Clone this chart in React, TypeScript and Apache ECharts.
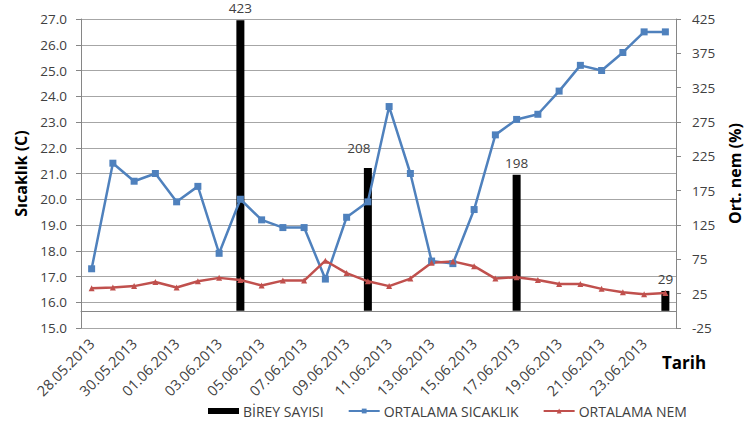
import React, { useEffect, useRef } from "react";
import * as echarts from "echarts";

const dates = [
  "28.05.2013", "29.05.2013", "30.05.2013", "31.05.2013", "01.06.2013", "02.06.2013", "03.06.2013",
  "04.06.2013", "05.06.2013", "06.06.2013", "07.06.2013", "08.06.2013", "09.06.2013", "10.06.2013",
  "11.06.2013", "12.06.2013", "13.06.2013", "14.06.2013", "15.06.2013", "16.06.2013", "17.06.2013",
  "18.06.2013", "19.06.2013", "20.06.2013", "21.06.2013", "22.06.2013", "23.06.2013", "24.06.2013",
];

const bireySayisi: (number | null)[] = [
  null, null, null, null, null, null, null, 423, null, null, null, null, null, 208,
  null, null, null, null, null, null, 198, null, null, null, null, null, null, 29,
];

const ortalamaSicaklik = [
  17.3, 21.4, 20.7, 21.0, 19.9, 20.5, 17.9, 20.0, 19.2, 18.9, 18.9, 16.9, 19.3, 19.9,
  23.6, 21.0, 17.6, 17.5, 19.6, 22.5, 23.1, 23.3, 24.2, 25.2, 25.0, 25.7, 26.5, 26.5,
];

const ortalamaNem = [
  33, 34, 36, 42, 34, 43, 48, 45, 37, 44, 44, 73, 55, 43,
  36, 47, 70, 72, 65, 47, 49, 45, 39, 39, 32, 27, 24, 26,
];

const rightTicks = [-25, 25, 75, 125, 175, 225, 275, 325, 375, 425];

const FONT = "Open Sans";

export default function App() {
  const ref = useRef<HTMLDivElement>(null);

  useEffect(() => {
    if (!ref.current) return;
    const chart = echarts.init(ref.current, null, { renderer: "svg" });

    const barData = bireySayisi.map((v) => {
      if (v === 208) {
        return { value: v, label: { offset: [-9, -8] } };
      }
      return v === null ? "-" : v;
    });

    chart.setOption({
      animation: false,
      backgroundColor: "#ffffff",
      textStyle: { fontFamily: FONT },
      grid: {
        left: 81,
        right: 70,
        top: 19,
        bottom: 104,
        outerBoundsMode: "none",
        containLabel: false,
      },
      legend: {
        left: 203,
        top: 399,
        itemWidth: 31,
        itemHeight: 6,
        itemGap: 24,
        textStyle: { fontFamily: FONT, fontSize: 14, color: "#404040", padding: [0, 0, 0, -1] },
        data: [
          { name: "BİREY SAYISI", icon: "rect" },
          { name: "ORTALAMA SICAKLIK" },
          { name: "ORTALAMA NEM" },
        ],
      },
      xAxis: {
        type: "category",
        data: dates,
        boundaryGap: true,
        axisLine: { lineStyle: { color: "#868686", width: 1 } },
        axisTick: { interval: 1, length: 5, lineStyle: { color: "#868686" } },
        axisLabel: {
          interval: 1,
          rotate: 45,
          margin: 13,
          fontFamily: FONT,
          fontSize: 14.5,
          color: "#404040",
        },
        splitLine: { show: false },
      },
      yAxis: [
        {
          type: "value",
          min: 15,
          max: 27,
          interval: 1,
          position: "left",
          name: "Sıcaklık (C)",
          nameLocation: "middle",
          nameGap: 52,
          nameTextStyle: { fontFamily: FONT, fontSize: 16, fontWeight: "bold", color: "#000000" },
          axisLine: { show: true, lineStyle: { color: "#868686" } },
          axisTick: { show: true, length: 5, lineStyle: { color: "#868686" } },
          axisLabel: {
            margin: 14,
            fontFamily: FONT,
            fontSize: 13.5,
            color: "#404040",
            formatter: (v: number) => v.toFixed(1),
          },
          splitLine: { show: true, lineStyle: { color: "#A6A6A6", width: 1 } },
        },
        {
          type: "value",
          min: -25,
          max: 425,
          position: "right",
          name: "Ort. nem (%)",
          nameLocation: "middle",
          nameRotate: 90,
          nameGap: 51,
          nameTextStyle: { fontFamily: FONT, fontSize: 16, fontWeight: "bold", color: "#000000" },
          axisLine: { show: true, lineStyle: { color: "#868686" } },
          axisTick: { show: true, length: 5, customValues: rightTicks, lineStyle: { color: "#868686" } },
          axisLabel: {
            margin: 16,
            fontFamily: FONT,
            fontSize: 13.5,
            color: "#404040",
            customValues: rightTicks,
          },
          splitLine: { show: false },
        },
      ],
      series: [
        {
          name: "BİREY SAYISI",
          type: "bar",
          yAxisIndex: 1,
          data: barData,
          barWidth: 8,
          itemStyle: { color: "#000000" },
          label: {
            show: true,
            position: "top",
            distance: 5,
            fontFamily: FONT,
            fontSize: 13.5,
            color: "#404040",
          },
        },
        {
          name: "ORTALAMA SICAKLIK",
          type: "line",
          yAxisIndex: 0,
          data: ortalamaSicaklik,
          symbol: "rect",
          symbolSize: 7,
          lineStyle: { color: "#4F81BD", width: 2.5 },
          itemStyle: { color: "#4F81BD" },
        },
        {
          name: "ORTALAMA NEM",
          type: "line",
          yAxisIndex: 1,
          data: ortalamaNem,
          symbol: "triangle",
          symbolSize: 6,
          lineStyle: { color: "#C0504D", width: 2.5 },
          itemStyle: { color: "#C0504D" },
        },
      ],
      graphic: [
        {
          type: "text",
          left: 662,
          top: 354,
          style: {
            text: "Tarih",
            fontFamily: FONT,
            fontSize: 17,
            fontWeight: "bold",
            fill: "#000000",
          },
        },
      ],
    });

    return () => {
      chart.dispose();
    };
  }, []);

  return (
    <div
      ref={ref}
      style={{ position: "absolute", left: 0, top: 0, width: 746, height: 432 }}
    />
  );
}
